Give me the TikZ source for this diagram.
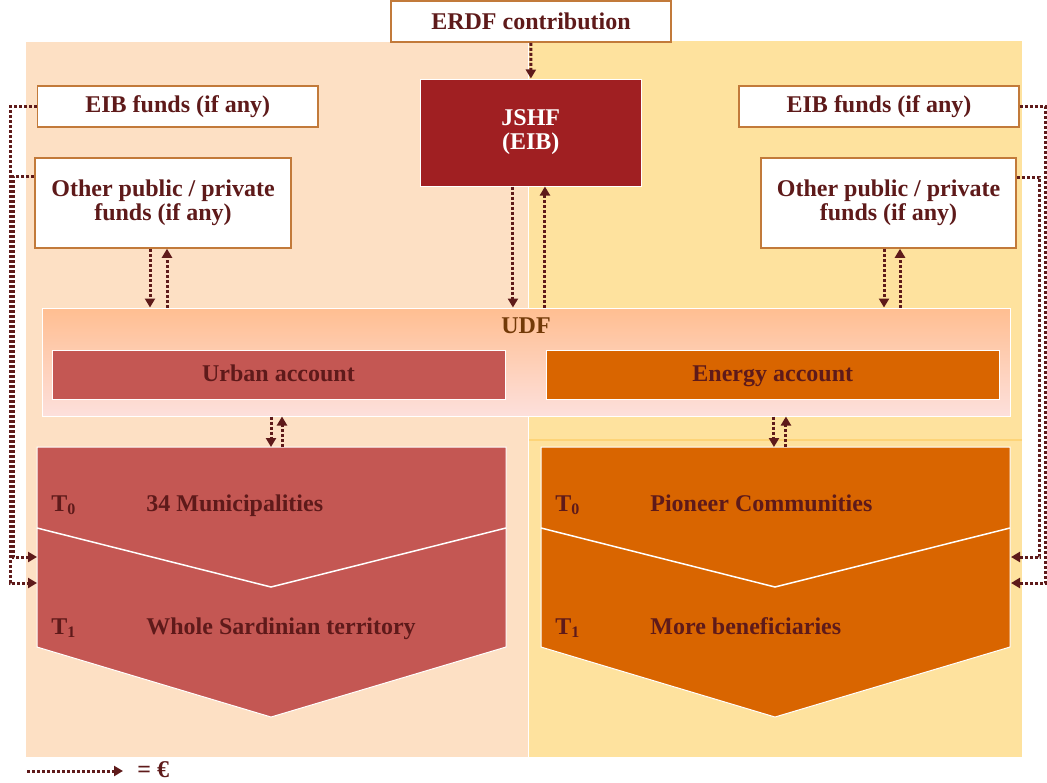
\documentclass[tikz,border=0pt]{standalone}
\usepackage{fontspec}
\setmainfont{Liberation Serif}
\usetikzlibrary{arrows.meta}

\definecolor{fondgauche}{RGB}{253,224,196}
\definecolor{fonddroit}{RGB}{254,226,158}
\definecolor{trait}{RGB}{253,212,120}
\definecolor{bordbrun}{RGB}{194,122,58}
\definecolor{texte}{RGB}{94,26,26}
\definecolor{udftexte}{RGB}{115,58,8}
\definecolor{jshfrouge}{RGB}{160,31,34}
\definecolor{urbain}{RGB}{196,87,83}
\definecolor{energie}{RGB}{217,101,0}
\definecolor{udfhaut}{RGB}{255,190,145}
\definecolor{udfbas}{RGB}{253,224,220}

\tikzset{
  boite/.style={draw=bordbrun, line width=0.75pt, fill=white, text=texte, align=center, inner sep=0pt},
  compte/.style={draw=white, line width=0.5pt, text=texte, inner sep=0pt, minimum height=24.5pt,
                 text height=8.5pt, text depth=1.5pt},
  flux/.style={draw=texte, line width=1.5pt, dash pattern=on 1.5pt off 1pt, -{Triangle[length=4.5pt,width=5pt]}},
  legende/.style={anchor=base west, text=texte, inner sep=0pt}
}

\begin{document}
\begin{tikzpicture}[x=0.5pt,y=-0.5pt,font=\fontsize{12}{12}\selectfont\bfseries]
  \useasboundingbox (0,0) rectangle (1047,782);

  % fonds
  \fill[fondgauche] (26,42) rectangle (528,757);
  \fill[fonddroit] (529,41) rectangle (1022,757);
  \draw[white,line width=0.5pt] (528.5,186) -- (528.5,757);
  \draw[trait,line width=1pt] (529,440) -- (1022,440);

  % boites du haut
  \node[boite,minimum width=140pt,minimum height=20.5pt] (erdf) at (531,21.5) {ERDF contribution};
  \node[draw=white,line width=0.5pt,fill=jshfrouge,text=white,align=center,
        minimum width=110.75pt,minimum height=53.5pt] (jshf) at (530.75,132.5) {JSHF\\(EIB)};
  \node[boite,minimum width=140.25pt,minimum height=20.5pt] (eibL) at (177.75,106.5) {EIB funds (if any)};
  \node[boite,minimum width=128pt,minimum height=45pt] (otherL) at (163,203) {Other public / private\\funds (if any)};
  \node[boite,minimum width=140pt,minimum height=20.5pt] (eibR) at (879,106.5) {EIB funds (if any)};
  \node[boite,minimum width=127.5pt,minimum height=45pt] (otherR) at (888.5,203) {Other public / private\\funds (if any)};

  % UDF et comptes
  \node[draw=white,line width=0.5pt,top color=udfhaut,bottom color=udfbas,
        minimum width=484pt,minimum height=54pt] (udf) at (526,362) {};
  \node[anchor=base,text=udftexte] (udflbl) at (526,333) {UDF};
  \node[compte,fill=urbain,minimum width=226.5pt] (urban) at (278.5,374.5) {Urban account};
  \node[compte,fill=energie,minimum width=226.75pt] (energy) at (772.75,374.5) {Energy account};

  % chevrons
  \fill[urbain,draw=white,line width=0.5pt] (37,447) -- (506,447) -- (506,647) -- (271,717) -- (37,647) -- cycle;
  \draw[white,line width=0.75pt] (37,528) -- (271,587) -- (506,528);
  \fill[energie,draw=white,line width=0.5pt] (541,447) -- (1010,447) -- (1010,647) -- (775,717) -- (541,647) -- cycle;
  \draw[white,line width=0.75pt] (541,528) -- (775,587) -- (1010,528);
  \coordinate (chevL) at (271,447);
  \coordinate (chevR) at (775,447);
  \coordinate (chevLa) at (37,557);
  \coordinate (chevLb) at (37,583);
  \coordinate (chevRa) at (1011,557);
  \coordinate (chevRb) at (1011,583);

  \node[legende] (t0L) at (51,511) {T\textsubscript{0}};
  \node[legende] (munic) at (146,511) {34 Municipalities};
  \node[legende] (t1L) at (51,634) {T\textsubscript{1}};
  \node[legende] (sard) at (146,634) {Whole Sardinian territory};
  \node[legende] (t0R) at (555,511) {T\textsubscript{0}};
  \node[legende] (pion) at (650,511) {Pioneer Communities};
  \node[legende] (t1R) at (555,634) {T\textsubscript{1}};
  \node[legende] (more) at (650,634) {More beneficiaries};

  % flux
  \draw[flux] (erdf) -- (jshf);
  \draw[flux] ([xshift=-8.9pt]jshf.south) -- ([xshift=-8.9pt]jshf.south |- udf.north);
  \draw[flux] ([xshift=7.1pt]jshf.south |- udf.north) -- ([xshift=7.1pt]jshf.south);
  \draw[flux] ([xshift=-6.5pt]otherL.south) -- ([xshift=-6.5pt]otherL.south |- udf.north);
  \draw[flux] ([xshift=2pt]otherL.south |- udf.north) -- ([xshift=2pt]otherL.south);
  \draw[flux] ([xshift=-2.25pt]otherR.south) -- ([xshift=-2.25pt]otherR.south |- udf.north);
  \draw[flux] ([xshift=5.75pt]otherR.south |- udf.north) -- ([xshift=5.75pt]otherR.south);
  \draw[flux] ([xshift=-3.75pt]urban.south |- udf.south) -- ([xshift=-3.75pt]urban.south |- chevL);
  \draw[flux] ([xshift=1.75pt]urban.south |- chevL) -- ([xshift=1.75pt]urban.south |- udf.south);
  \draw[flux] ([xshift=0.6pt]energy.south |- udf.south) -- ([xshift=0.6pt]energy.south |- chevR);
  \draw[flux] ([xshift=6.6pt]energy.south |- chevR) -- ([xshift=6.6pt]energy.south |- udf.south);

  % fonds annexes
  \draw[flux] (eibL.west) -- ++(-26.5,0) |- (chevLb);
  \draw[flux] ([yshift=13.5pt]otherL.west) -- ++(-21,0) |- (chevLa);
  \draw[flux] (eibR.east) -- ++(26,0) |- (chevRb);
  \draw[flux] ([yshift=13pt]otherR.east) -- ++(23,0) |- (chevRa);

  % legende
  \coordinate (legA) at (27,771);
  \coordinate (legB) at (123,771);
  \draw[flux] (legA) -- (legB);
  \node[legende] (euro) at (137,777) {= €};
\end{tikzpicture}
\end{document}
